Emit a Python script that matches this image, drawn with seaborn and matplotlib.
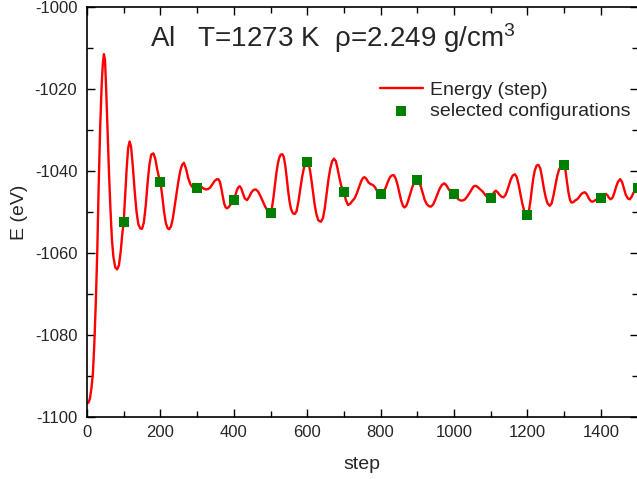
import matplotlib
matplotlib.use("Agg")
import matplotlib.pyplot as plt
import seaborn as sns
import pandas as pd
from matplotlib.ticker import MultipleLocator

# ---- data ----
steps = [0, 4, 8, 12, 16, 20, 24, 28, 32, 36, 40, 43, 46, 49, 52, 56, 60, 64, 68, 72, 77, 82, 87, 92, 96,
         100, 104, 108, 112, 116, 120, 125, 130, 135, 140, 145, 150, 155, 160, 165, 170, 175, 181, 186, 191, 196,
         200, 205, 210, 215, 220, 224, 229, 234, 239, 244, 249, 254, 259, 264, 270, 276, 282, 288, 294,
         300, 306, 312, 318, 324, 330, 336, 342, 348, 354, 358, 362, 366, 370, 374, 378, 382, 386, 390, 394,
         400, 404, 408, 412, 416, 420, 425, 430, 436, 442, 448, 454, 460, 466, 472, 478, 484, 490, 495,
         500, 504, 508, 512, 516, 520, 524, 528, 532, 536, 540, 544, 548, 552, 556, 561, 566, 571, 576, 581, 586, 591, 596,
         600, 604, 608, 612, 616, 620, 625, 630, 637, 643, 648, 653, 658, 663, 668, 673, 678, 683, 688, 693,
         700, 705, 711, 717, 723, 729, 735, 741, 747, 752, 756, 761, 767, 773, 779, 785, 791, 796,
         800, 805, 810, 815, 820, 825, 830, 836, 841, 846, 851, 856, 861, 865, 870, 875, 880, 885, 890, 895,
         900, 905, 910, 915, 920, 926, 932, 937, 943, 949, 955, 961, 967, 974, 980, 986, 992,
         1000, 1006, 1012, 1018, 1024, 1030, 1036, 1042, 1048, 1053, 1058, 1063, 1068, 1073, 1078, 1083, 1088, 1093,
         1100, 1104, 1109, 1114, 1119, 1124, 1130, 1135, 1140, 1145, 1150, 1155, 1160, 1166, 1171, 1176, 1181, 1186, 1191, 1195,
         1200, 1204, 1208, 1212, 1216, 1220, 1225, 1230, 1235, 1240, 1245, 1250, 1255, 1261, 1266, 1271, 1276, 1281, 1286, 1291, 1296,
         1300, 1304, 1308, 1312, 1316, 1320, 1325, 1330, 1337, 1342, 1347, 1352, 1357, 1362, 1367, 1372, 1377, 1382, 1387, 1392,
         1400, 1405, 1410, 1414, 1418, 1422, 1427, 1432, 1437, 1442, 1447, 1453, 1458, 1463, 1468, 1474, 1479, 1484, 1489, 1494,
         1500]
energy = [-1096.6, -1096.5, -1095.5, -1093.0, -1089.5, -1082.0, -1072.0, -1059.5, -1043.0, -1029.0, -1019.0, -1014.0, -1011.5, -1012.8, -1019.5, -1030.0, -1040.6, -1049.5, -1056.8, -1061.0, -1063.5, -1064.0, -1063.0, -1059.5, -1055.5,
          -1052.4, -1046.0, -1039.5, -1034.5, -1032.8, -1034.0, -1039.0, -1045.0, -1050.0, -1053.0, -1054.0, -1054.1, -1052.5, -1048.5, -1043.0, -1038.5, -1036.0, -1035.7, -1037.0, -1039.5, -1041.5,
          -1042.8, -1046.0, -1050.0, -1052.8, -1054.0, -1054.2, -1053.5, -1051.5, -1048.5, -1045.5, -1042.5, -1040.0, -1038.5, -1038.0, -1039.5, -1041.8, -1043.3, -1044.0, -1044.2,
          -1044.1, -1043.8, -1043.9, -1044.3, -1044.5, -1044.4, -1044.0, -1043.2, -1042.4, -1042.0, -1042.0, -1042.6, -1044.2, -1046.2, -1048.0, -1048.9, -1049.1, -1048.8, -1048.3, -1047.8,
          -1047.0, -1046.0, -1044.8, -1044.0, -1043.7, -1044.2, -1045.5, -1046.7, -1047.1, -1046.3, -1045.2, -1044.6, -1044.5, -1045.0, -1046.0, -1047.2, -1048.4, -1049.4, -1050.0,
          -1050.2, -1049.0, -1046.5, -1043.5, -1040.5, -1038.2, -1036.7, -1036.0, -1035.9, -1036.5, -1038.5, -1041.5, -1044.8, -1047.5, -1049.3, -1050.3, -1050.5, -1049.8, -1047.5, -1044.5, -1041.5, -1039.3, -1038.0,
          -1037.7, -1038.3, -1040.0, -1042.5, -1045.3, -1048.0, -1050.5, -1052.0, -1052.4, -1051.5, -1049.0, -1045.5, -1042.0, -1039.3, -1037.6, -1037.0, -1037.6, -1039.5, -1041.8, -1043.7,
          -1045.0, -1047.0, -1048.3, -1048.0, -1047.3, -1046.7, -1045.5, -1044.0, -1042.5, -1041.7, -1041.5, -1041.9, -1042.8, -1043.2, -1043.4, -1044.0, -1045.0, -1045.5,
          -1045.6, -1045.4, -1044.8, -1043.8, -1042.6, -1041.6, -1041.1, -1041.0, -1041.8, -1043.3, -1045.3, -1047.2, -1048.5, -1048.9, -1048.5, -1047.3, -1045.8, -1044.3, -1043.1, -1042.4,
          -1042.1, -1042.6, -1043.9, -1045.5, -1047.0, -1048.1, -1048.6, -1048.7, -1048.2, -1047.0, -1045.6, -1044.3, -1043.4, -1043.0, -1043.6, -1044.5, -1045.2,
          -1045.7, -1046.4, -1046.9, -1047.2, -1047.2, -1046.9, -1046.2, -1045.4, -1044.5, -1043.8, -1043.6, -1043.8, -1044.2, -1044.6, -1045.0, -1045.6, -1046.1, -1046.5,
          -1046.6, -1046.0, -1045.2, -1044.8, -1045.2, -1045.8, -1046.3, -1046.4, -1045.9, -1044.8, -1043.4, -1042.0, -1041.1, -1040.8, -1041.5, -1043.3, -1045.6, -1047.9, -1049.6, -1050.4,
          -1050.7, -1049.8, -1047.5, -1044.5, -1041.8, -1039.9, -1038.7, -1038.5, -1039.3, -1041.6, -1044.3, -1046.5, -1047.9, -1048.5, -1047.9, -1046.0, -1043.6, -1041.3, -1039.7, -1038.8, -1038.5,
          -1038.6, -1040.0, -1042.8, -1045.3, -1047.0, -1047.7, -1047.6, -1047.2, -1046.8, -1046.2, -1045.6, -1045.3, -1045.2, -1045.7, -1046.6, -1047.3, -1047.5, -1047.3, -1047.0, -1046.8,
          -1046.6, -1046.1, -1045.7, -1045.6, -1045.9, -1046.5, -1046.9, -1046.5, -1045.3, -1043.8, -1042.6, -1042.0, -1042.7, -1044.3, -1045.8, -1046.7, -1046.9, -1046.3, -1045.3, -1044.6,
          -1044.2]

sel_steps = [100, 200, 300, 400, 500, 600, 700, 800, 900, 1000, 1100, 1200, 1300, 1400, 1500]
sel_energy = [-1052.4, -1042.8, -1044.1, -1047.1, -1050.2, -1037.7, -1045.0, -1045.6, -1042.1,
              -1045.7, -1046.7, -1050.7, -1038.6, -1046.6, -1044.2]

line_label = "Energy (step)"
point_label = "selected configurations"
title_text = "Al   T=1273 K  \u03c1=2.249 g/cm$^3$"
x_label = "step"
y_label = "E (eV)"

# ---- style ----
sns.set_style("ticks")
plt.rcParams["font.family"] = ["Liberation Sans", "DejaVu Sans"]
plt.rcParams["mathtext.fontset"] = "custom"
plt.rcParams["mathtext.rm"] = "Liberation Sans"
plt.rcParams["mathtext.it"] = "Liberation Sans"
plt.rcParams["axes.unicode_minus"] = False

df_line = pd.DataFrame({"step": steps, "E": energy})
df_sel = pd.DataFrame({"step": sel_steps, "E": sel_energy})

fig = plt.figure(figsize=(6.37, 4.79), dpi=100)
ax = fig.add_axes([87 / 637, 62 / 479, 550.5 / 637, 410 / 479])

sns.lineplot(data=df_line, x="step", y="E", ax=ax, color="red", linewidth=1.7,
             label=line_label, sort=False)
sns.scatterplot(data=df_sel, x="step", y="E", ax=ax, color="#008000", marker="s",
                s=52, linewidth=0, label=point_label, zorder=3, clip_on=False)

ax.set_xlim(0, 1500)
ax.set_ylim(-1100, -1000)
ax.xaxis.set_major_locator(MultipleLocator(200))
ax.xaxis.set_minor_locator(MultipleLocator(100))
ax.yaxis.set_major_locator(MultipleLocator(20))
ax.yaxis.set_minor_locator(MultipleLocator(10))
ax.tick_params(which="both", direction="in", top=True, right=True, width=1.0,
               color="black", labelsize=12)
ax.tick_params(which="major", length=6)
ax.tick_params(which="minor", length=4)
ax.tick_params(axis="x", pad=6)
ax.tick_params(axis="y", pad=7)
for sp in ax.spines.values():
    sp.set_linewidth(1.2)
    sp.set_color("black")

ax.set_xlabel(x_label, fontsize=14, labelpad=11)
ax.set_ylabel(y_label, fontsize=14, labelpad=5)

fig.text(150 / 637, 1 - 38 / 479, title_text, fontsize=20, ha="left", va="center")

leg = ax.legend(loc="upper left", bbox_to_anchor=(380 / 637, 1 - 81 / 479),
                bbox_transform=fig.transFigure, frameon=False, fontsize=14,
                handlelength=2.2, handletextpad=0.35, labelspacing=0.2,
                borderpad=0, borderaxespad=0, markerscale=1.0)

fig.savefig("out.png", dpi=100)
